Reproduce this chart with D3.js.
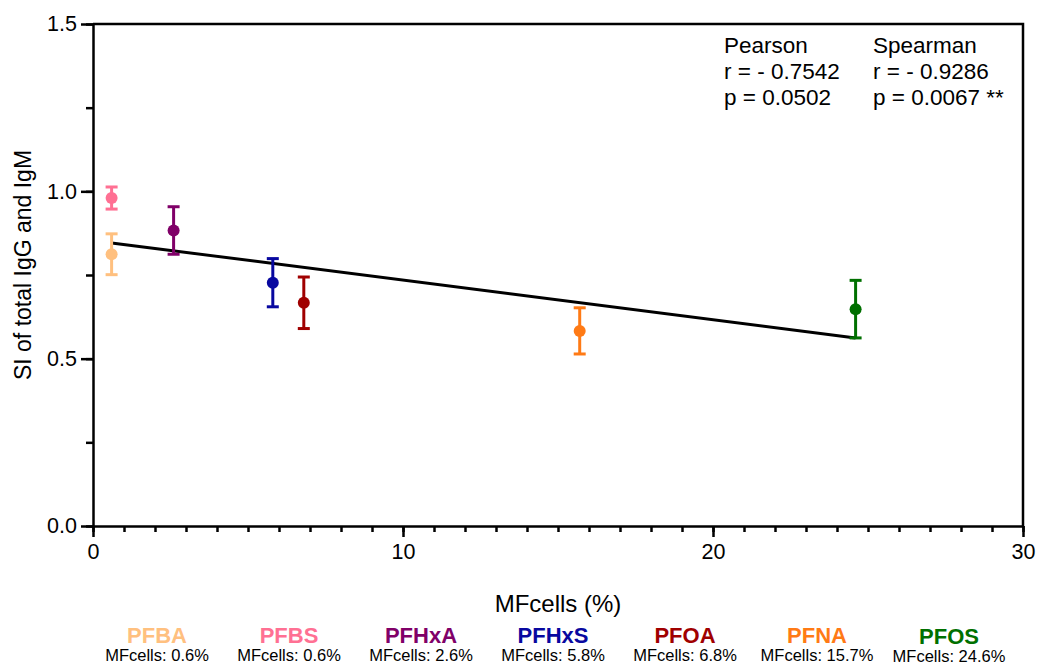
<!DOCTYPE html>
<html>
<head>
<meta charset="utf-8">
<script src="https://cdn.jsdelivr.net/npm/d3@7"></script>
<style>
  body { margin: 0; background: #fff; }
  text { font-family: "Liberation Sans", Arial, sans-serif; }
</style>
</head>
<body>
<svg id="chart"></svg>
<script>
var svgWidth = 1038;
var svgHeight = 665;

// data
var compounds = ["PFBA", "PFBS", "PFHxA", "PFHxS", "PFOA", "PFNA", "PFOS"];
var mfCells = [0.6, 0.6, 2.6, 5.8, 6.8, 15.7, 24.6];
var siMean = [0.812, 0.980, 0.883, 0.727, 0.667, 0.583, 0.648];
var siErr = [0.061, 0.033, 0.071, 0.072, 0.077, 0.069, 0.086];
var fitSlope = -0.01183;
var fitIntercept = 0.853;
var yTicks = [0.0, 0.5, 1.0, 1.5];
var xTicks = [0, 10, 20, 30];
var statLines = [
  ["Pearson", "Spearman"],
  ["r = - 0.7542", "r = - 0.9286"],
  ["p = 0.0502", "p = 0.0067 **"]
];

var palette = ["#ffc07f", "#ff7093", "#800068", "#0808a0", "#a00000", "#ff7a15", "#007000"];

var margin = { top: 24, right: 15, bottom: 139, left: 93 };
var width = svgWidth - margin.left - margin.right;
var height = svgHeight - margin.top - margin.bottom;

var svg = d3.select("#chart")
  .attr("width", svgWidth)
  .attr("height", svgHeight);

var g = svg.append("g")
  .attr("transform", `translate(${margin.left}, ${margin.top})`);

var x = d3.scaleLinear().domain([0, 30]).range([0, width]);
var y = d3.scaleLinear().domain([0, 1.5]).range([height, 0]);

// frame top + right
g.append("path")
  .attr("d", `M0,0H${width}V${height}`)
  .attr("fill", "none")
  .attr("stroke", "#000")
  .attr("stroke-width", 2.5);

// x axis: minor ticks then major
var xMinor = g.append("g")
  .attr("transform", `translate(0,${height})`)
  .call(d3.axisBottom(x).tickValues(d3.range(0, 31, 1)).tickSize(6).tickFormat(""));
xMinor.select(".domain").remove();
xMinor.selectAll("line").attr("stroke-width", 2.5);

var xAxis = g.append("g")
  .attr("transform", `translate(0,${height})`)
  .call(d3.axisBottom(x).tickValues(xTicks).tickSize(11).tickSizeOuter(0).tickPadding(7).tickFormat(d3.format("d")));
xAxis.select(".domain").attr("stroke-width", 2.5);
xAxis.selectAll("line").attr("stroke-width", 2.5);
xAxis.selectAll("text").attr("font-size", 21.5).attr("fill", "#000");

// y axis
var yMinor = g.append("g")
  .call(d3.axisLeft(y).tickValues(d3.range(0, 1.51, 0.25)).tickSize(7).tickFormat(""));
yMinor.select(".domain").remove();
yMinor.selectAll("line").attr("stroke-width", 2.5);

var yAxis = g.append("g")
  .call(d3.axisLeft(y).tickValues(yTicks).tickSize(12).tickSizeOuter(0).tickPadding(4).tickFormat(d3.format(".1f")));
yAxis.select(".domain").attr("stroke-width", 2.5);
yAxis.selectAll("line").attr("stroke-width", 2.5);
yAxis.selectAll("text").attr("font-size", 21.5).attr("fill", "#000");

// axis titles
svg.append("text")
  .attr("x", margin.left + width / 2)
  .attr("y", 612)
  .attr("text-anchor", "middle")
  .attr("font-size", 24)
  .text("MFcells (%)");

svg.append("text")
  .attr("transform", "translate(31, 265) rotate(-90)")
  .attr("text-anchor", "middle")
  .attr("font-size", 23)
  .text("SI of total IgG and IgM");

// regression line
var xExt = d3.extent(mfCells);
g.append("line")
  .attr("x1", x(xExt[0]))
  .attr("y1", y(fitIntercept + fitSlope * xExt[0]))
  .attr("x2", x(xExt[1]))
  .attr("y2", y(fitIntercept + fitSlope * xExt[1]))
  .attr("stroke", "#000")
  .attr("stroke-width", 3);

// error bars + points
var pts = compounds.map(function(c, i) {
  return { name: c, x: mfCells[i], y: siMean[i], e: siErr[i], color: palette[i] };
});

var pg = g.selectAll(".pt").data(pts).enter().append("g").attr("class", "pt");
pg.append("line")
  .attr("x1", d => x(d.x)).attr("x2", d => x(d.x))
  .attr("y1", d => y(d.y - d.e)).attr("y2", d => y(d.y + d.e))
  .attr("stroke", d => d.color).attr("stroke-width", 3);
pg.selectAll(".cap")
  .data(d => [d.y - d.e, d.y + d.e].map(v => ({ x: d.x, v: v, color: d.color })))
  .enter().append("line")
  .attr("x1", d => x(d.x) - 6).attr("x2", d => x(d.x) + 6)
  .attr("y1", d => y(d.v)).attr("y2", d => y(d.v))
  .attr("stroke", d => d.color).attr("stroke-width", 3);
pg.append("circle")
  .attr("cx", d => x(d.x)).attr("cy", d => y(d.y))
  .attr("r", 6)
  .attr("fill", d => d.color);

// stats text
var stats = svg.append("g");
statLines.forEach(function(row, i) {
  row.forEach(function(t, j) {
    stats.append("text")
      .attr("x", j === 0 ? 724 : 873)
      .attr("y", 53 + i * 26)
      .attr("font-size", 22.5)
      .text(t);
  });
});

// legend under the chart
var legX = d3.scalePoint().domain(compounds).range([157, 949]);
var leg = svg.selectAll(".leg").data(pts).enter().append("g")
  .attr("class", "leg")
  .attr("transform", d => `translate(${legX(d.name)}, ${d.name === "PFOS" ? 1 : 0})`);
leg.append("text")
  .attr("y", 643)
  .attr("text-anchor", "middle")
  .attr("font-size", 22)
  .attr("font-weight", "bold")
  .attr("fill", d => d.color)
  .text(d => d.name);
leg.append("text")
  .attr("y", 661)
  .attr("text-anchor", "middle")
  .attr("font-size", 16.5)
  .text(d => "MFcells: " + d.x + "%");
</script>
</body>
</html>
